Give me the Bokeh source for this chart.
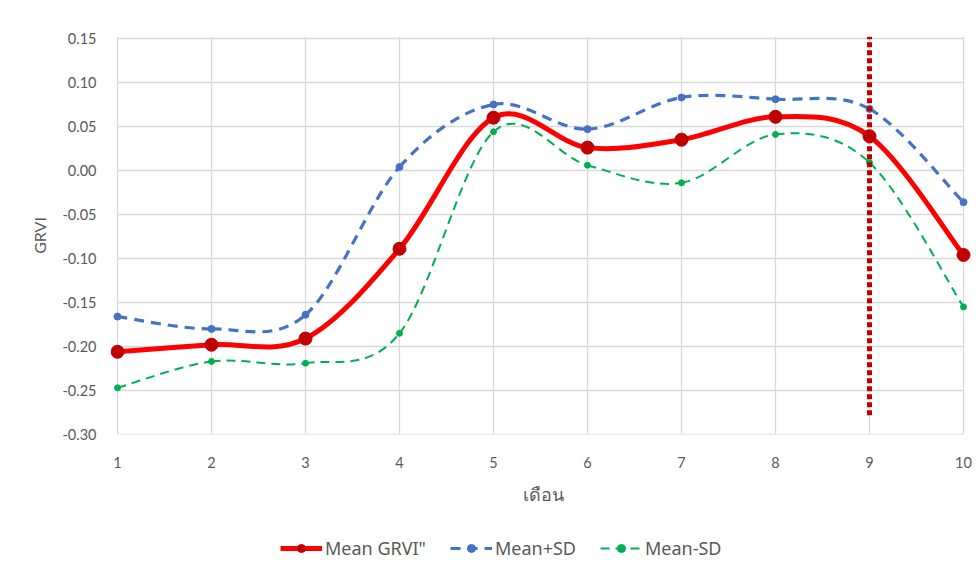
from bokeh.plotting import figure
from bokeh.layouts import column
from bokeh.models import (Range1d, FixedTicker, NumeralTickFormatter, Legend, LegendItem,
                          ColumnDataSource)
from bokeh.embed import file_html
from bokeh.resources import INLINE

# ---------------- data ----------------
months = [1, 2, 3, 4, 5, 6, 7, 8, 9, 10]
mean_grvi = [-0.206, -0.198, -0.191, -0.089, 0.060, 0.026, 0.035, 0.061, 0.039, -0.096]
mean_plus_sd = [-0.166, -0.180, -0.164, 0.004, 0.075, 0.047, 0.083, 0.081, 0.070, -0.036]
mean_minus_sd = [-0.247, -0.217, -0.219, -0.185, 0.044, 0.006, -0.014, 0.041, 0.009, -0.155]
y_ticks = [0.15, 0.10, 0.05, 0.00, -0.05, -0.10, -0.15, -0.20, -0.25, -0.30]
x_ticks = [1, 2, 3, 4, 5, 6, 7, 8, 9, 10]
series_names = ['Mean GRVI"', "Mean+SD", "Mean-SD"]
marker_month = [9]
marker_top = [0.152]
marker_bottom = [-0.278]

TXT = "#595959"
GRID = "#d9d9d9"
RED, DRED, BLUE, GREEN = "#FF0000", "#C00000", "#4472C4", "#00B050"

p = figure(frame_width=866, frame_height=398, output_backend="svg", toolbar_location=None,
           x_range=Range1d(1 - 7 / 94, 10 + 13 / 94), y_range=Range1d(-0.30, 0.15 + 2 / 880),
           min_border_left=110, min_border_right=0, min_border_top=36, min_border_bottom=90)
p.outline_line_color = None
p.background_fill_color = "white"
p.border_fill_color = "white"

p.xgrid.ticker = FixedTicker(ticks=x_ticks)
p.xgrid.grid_line_color = GRID
p.xgrid.grid_line_width = 1.3
p.ygrid.grid_line_color = None
p.segment(x0=[x_ticks[0]] * len(y_ticks), x1=[x_ticks[-1]] * len(y_ticks),
          y0=y_ticks, y1=y_ticks, line_color=GRID, line_width=1.3)

for ax in (p.xaxis, p.yaxis):
    ax.axis_line_color = None
    ax.major_tick_line_color = None
    ax.minor_tick_line_color = None
    ax.major_label_text_color = TXT
    ax.major_label_text_font = "Lato"
    ax.major_label_text_font_size = "14.5px"
    ax.axis_label_text_color = TXT
    ax.axis_label_text_font_style = "normal"
p.xaxis.ticker = FixedTicker(ticks=x_ticks)
p.yaxis.ticker = FixedTicker(ticks=y_ticks)
p.yaxis.formatter = NumeralTickFormatter(format="0.00")
p.xaxis.major_label_standoff = 16
p.yaxis.major_label_standoff = 8
p.xaxis.axis_label = "เดือน"
p.xaxis.axis_label_text_font = "Noto Sans"
p.xaxis.axis_label_text_font_size = "18px"
p.xaxis.axis_label_standoff = 11
p.yaxis.axis_label = "GRVI"
p.yaxis.axis_label_text_font = "Lato"
p.yaxis.axis_label_text_font_size = "16px"
p.yaxis.axis_label_standoff = 10


def smooth(xs, ys):
    n = len(xs)
    d = dict(x0=[], y0=[], x1=[], y1=[], cx0=[], cy0=[], cx1=[], cy1=[])
    for i in range(n - 1):
        a = i - 1 if i > 0 else i
        b = i + 2 if i + 2 < n else i + 1
        d["x0"].append(xs[i]); d["y0"].append(ys[i])
        d["x1"].append(xs[i + 1]); d["y1"].append(ys[i + 1])
        d["cx0"].append(xs[i] + (xs[i + 1] - xs[a]) / 6)
        d["cy0"].append(ys[i] + (ys[i + 1] - ys[a]) / 6)
        d["cx1"].append(xs[i + 1] - (xs[b] - xs[i]) / 6)
        d["cy1"].append(ys[i + 1] - (ys[b] - ys[i]) / 6)
    return ColumnDataSource(d)


BZ = dict(x0="x0", y0="y0", x1="x1", y1="y1", cx0="cx0", cy0="cy0", cx1="cx1", cy1="cy1")

p.bezier(source=smooth(months, mean_plus_sd), line_color=BLUE, line_width=3.2, line_dash="10 7", **BZ)
p.scatter(months, mean_plus_sd, size=7, fill_color=BLUE, line_color=BLUE)

p.bezier(source=smooth(months, mean_minus_sd), line_color=GREEN, line_width=2, line_dash="9 6", **BZ)
p.scatter(months, mean_minus_sd, size=6, fill_color=GREEN, line_color=GREEN)

p.bezier(source=smooth(months, mean_grvi), line_color=RED, line_width=5, **BZ)
p.scatter(months, mean_grvi, size=13, fill_color=DRED, line_color=DRED)

p.segment(x0=marker_month, x1=marker_month, y0=marker_bottom, y1=marker_top,
          line_color=DRED, line_width=5, line_dash="5 3")

# ---------------- legend strip (same series, plotted out of view) ----------------
q = figure(width=976, height=46, output_backend="svg", toolbar_location=None,
           x_axis_location=None, y_axis_location=None,
           min_border=0, min_border_left=0, min_border_right=0, min_border_top=0, min_border_bottom=0,
           x_range=Range1d(-20, -10), y_range=Range1d(-20, -10))
q.outline_line_color = None
q.grid.grid_line_color = None
q.border_fill_color = "white"
q.background_fill_color = "white"

lr = q.line(months, mean_grvi, line_color=RED, line_width=5)
lm = q.scatter(months, mean_grvi, size=13, fill_color=DRED, line_color=DRED)
br = q.line(months, mean_plus_sd, line_color=BLUE, line_width=3.2, line_dash="10 7")
bm = q.scatter(months, mean_plus_sd, size=6, fill_color=BLUE, line_color=BLUE)
gr = q.line(months, mean_minus_sd, line_color=GREEN, line_width=2.2, line_dash="9 6")
gm = q.scatter(months, mean_minus_sd, size=5, fill_color=GREEN, line_color=GREEN)

legend = Legend(items=[
    LegendItem(label=series_names[0], renderers=[lr, lm]),
    LegendItem(label=series_names[1], renderers=[br, bm]),
    LegendItem(label=series_names[2], renderers=[gr, gm]),
], orientation="horizontal", location=(170, 10))
legend.label_text_font = "Noto Sans"
legend.label_text_font_size = "18px"
legend.label_text_color = TXT
legend.glyph_width = 42
legend.glyph_height = 20
legend.label_standoff = 3
legend.spacing = 24
legend.padding = 4
legend.margin = 0
legend.border_line_color = None
legend.background_fill_alpha = 0
q.add_layout(legend, "center")

layout = column(p, q, spacing=0)
open("out.html", "w").write(file_html(layout, INLINE))
